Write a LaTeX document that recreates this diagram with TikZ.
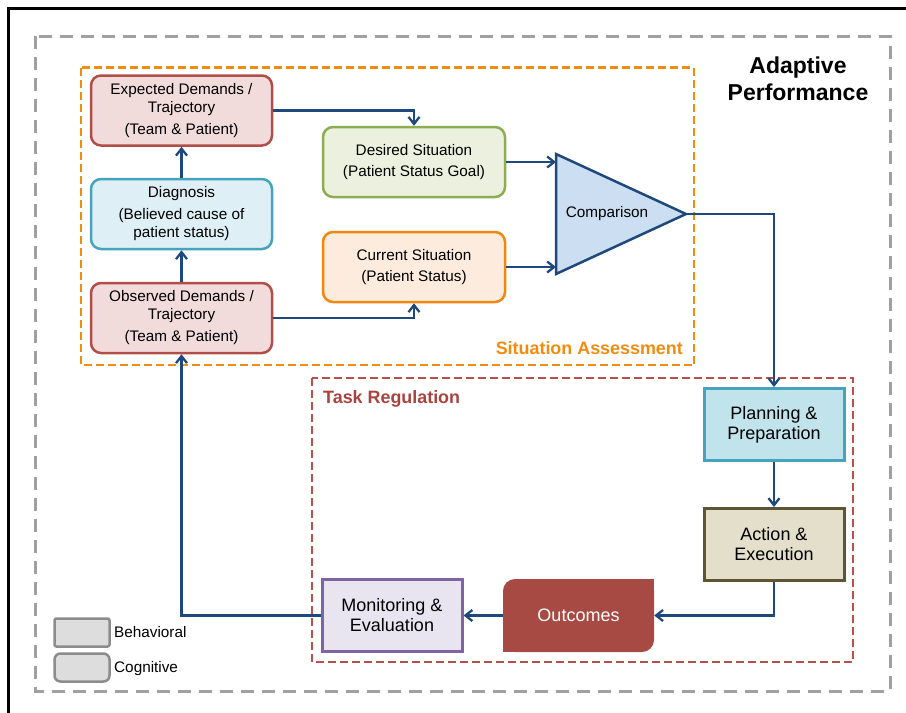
\documentclass[tikz,border=0pt]{standalone}
\usepackage{fontspec}
\setmainfont{Liberation Sans}
\usetikzlibrary{arrows.meta}
\definecolor{arrowc}{HTML}{1F497D}
\definecolor{redb}{HTML}{B04E49}
\definecolor{redf}{HTML}{F2DCDB}
\definecolor{blueb}{HTML}{45A3BC}
\definecolor{bluef}{HTML}{DEEFF6}
\definecolor{greenb}{HTML}{8EAD52}
\definecolor{greenf}{HTML}{EBF1DE}
\definecolor{orangeb}{HTML}{F0870F}
\definecolor{orangef}{HTML}{FDECDD}
\definecolor{trif}{HTML}{CCDEF1}
\definecolor{planf}{HTML}{C0E3EC}
\definecolor{actf}{HTML}{E3DFCA}
\definecolor{actb}{HTML}{5E5535}
\definecolor{outc}{HTML}{A84A44}
\definecolor{monf}{HTML}{E9E5F0}
\definecolor{monb}{HTML}{8064A2}
\definecolor{grayd}{HTML}{A0A0A0}
\definecolor{orangec}{HTML}{F28C0F}
\definecolor{redd}{HTML}{B8504B}
\definecolor{redt}{HTML}{A84440}
\definecolor{legf}{HTML}{DDDDDD}
\definecolor{legb}{HTML}{8C8C8C}
\begin{document}
\begin{tikzpicture}[x=1pt,y=-1pt,
  cog/.style={rounded corners=10pt, line width=2.5pt, minimum width=181pt, minimum height=70pt,
    align=center, inner sep=0pt, font=\fontsize{15.3}{18}\selectfont},
  cog2/.style={cog, minimum width=182pt, font=\fontsize{15.3}{21.5}\selectfont},
  beh/.style={line width=3pt, minimum width=140pt, minimum height=72pt, align=center,
    inner sep=0pt, font=\fontsize{18}{20}\selectfont},
  conn/.style={draw=arrowc, line width=2.3pt, -{Straight Barb[length=7pt,width=11pt]}},
  lbl/.style={inner sep=0pt, font=\bfseries\fontsize{17.9}{20}\selectfont},
  legbox/.style={draw=legb, fill=legf, line width=2.5pt, minimum width=55pt, minimum height=28pt, inner sep=0pt},
  legtxt/.style={inner sep=0pt, anchor=base west, font=\fontsize{15.3}{17}\selectfont}
]
\useasboundingbox (0,0) rectangle (906,713);
% outer black frame (only top and left visible)
\draw[line width=2.5pt] (8.5,713) -- (8.5,8.5) -- (906,8.5);
% dashed groups
\draw[grayd, line width=3pt, dash pattern=on 13pt off 8pt] (35,36) rectangle (890,691);
\draw[orangec, line width=2.5pt, dash pattern=on 8pt off 4pt] (81,67.5) rectangle (694,365);
\draw[redd, line width=2.5pt, dash pattern=on 8pt off 4pt] (312,378) rectangle (853,662);

% cognitive nodes
\node[cog, draw=redb, fill=redf] (exp) at (181.5,110.5) {Expected Demands /\\Trajectory\\[4pt](Team \& Patient)};
\node[cog, draw=blueb, fill=bluef] (diag) at (181.5,214) {Diagnosis\\[4pt](Believed cause of\\patient status)};
\node[cog, draw=redb, fill=redf] (obs) at (181.5,318) {Observed Demands /\\Trajectory\\[4pt](Team \& Patient)};
\node[cog2, draw=greenb, fill=greenf] (des) at (414,162) {Desired Situation\\(Patient Status Goal)};
\node[cog2, draw=orangeb, fill=orangef] (cur) at (414,267) {Current Situation\\(Patient Status)};

% comparison triangle
\coordinate (ttop) at (556,154);
\coordinate (tbot) at (556,274);
\coordinate (tapex) at (686,214);
\draw[draw=arrowc, fill=trif, line width=2.5pt, line join=miter] (ttop) -- (tapex) -- (tbot) -- cycle;
\node[inner sep=0pt, font=\fontsize{15.3}{17}\selectfont] (cmp) at (607,214) {Comparison};

% behavioral nodes
\node[beh, draw=blueb, fill=planf] (plan) at (774,424.5) {Planning \&\\Preparation};
\node[beh, draw=actb, fill=actf] (act) at (774,544.5) {Action \&\\Execution};
\node[beh, draw=monb, fill=monf, minimum width=140pt] (mon) at (392,615.5) {Monitoring \&\\Evaluation};
\node[fill=outc, rounded corners=12pt, minimum width=151pt, minimum height=73pt, inner sep=0pt,
  text=white, font=\fontsize{18}{20}\selectfont] (out) at (578.5,615.5) {Outcomes};
\fill[outc] (out.north east) rectangle ++(-14,14);
\fill[outc] (out.south west) rectangle ++(14,-14);

% connectors
\draw[conn] (diag.north) -- (exp.south);
\draw[conn] (obs.north) -- (diag.south);
\draw[conn] (exp.east) -| (des.north);
\draw[conn] (obs.east) -| (cur.south);
\draw[conn] (des.east) -- (des.east -| ttop);
\draw[conn] (cur.east) -- (cur.east -| ttop);
\draw[conn] (tapex) -| (plan.north);
\draw[conn] (plan.south) -- (act.north);
\draw[conn] (act.south) |- (out.east);
\draw[conn] (out.west) -- (mon.east);
\draw[conn] (mon.west) -| (obs.south);

% labels
\node[align=center, inner sep=0pt, font=\bfseries\fontsize{23}{27}\selectfont] (title) at (798,79) {Adaptive\\Performance};
\node[lbl, text=orangec, anchor=base east] (sa) at (683,354.3) {Situation Assessment};
\node[lbl, text=redt, anchor=base west] (tr) at (323,403.3) {Task Regulation};

% legend
\node[legbox, rounded corners=2pt] (lb) at (82,632.5) {};
\node[legbox, rounded corners=6pt] (lc) at (82,667.5) {};
\node[legtxt] (lbt) at (114,637.2) {Behavioral};
\node[legtxt] (lct) at (114,672.2) {Cognitive};
\end{tikzpicture}
\end{document}
